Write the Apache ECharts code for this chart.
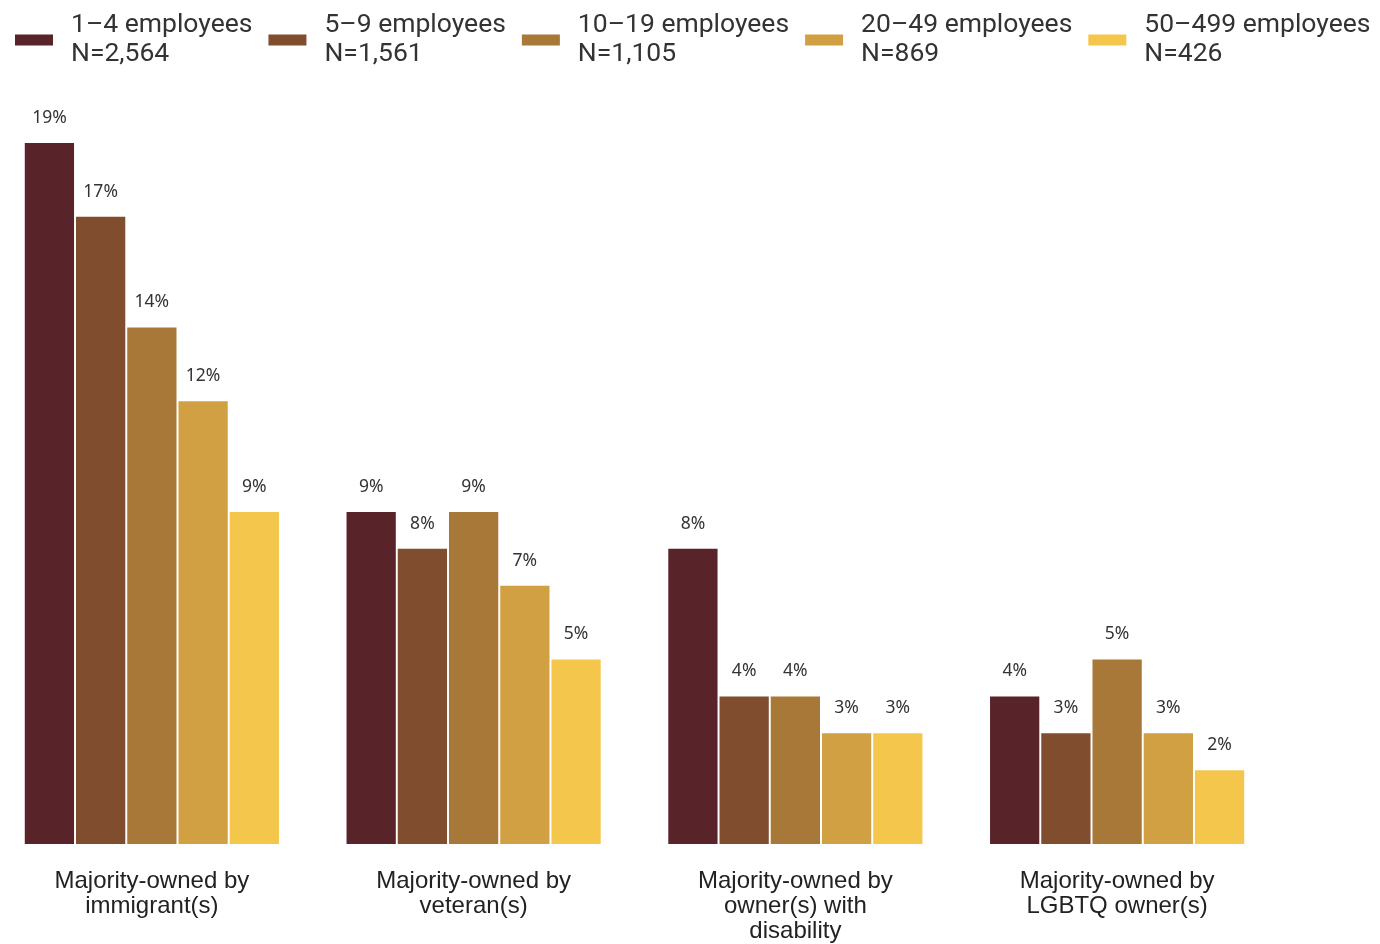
<!DOCTYPE html>
<html>
<head>
<meta charset="utf-8">
<script src="https://cdn.jsdelivr.net/npm/echarts@6/dist/echarts.min.js"></script>
<style>
html,body{margin:0;padding:0;background:#fff;overflow:hidden;}
#chart{position:absolute;left:-9px;top:0;width:1389px;height:944px;}
</style>
</head>
<body>
<div id="chart"></div>
<script>
const categories = [
  "Majority-owned by\nimmigrant(s)",
  "Majority-owned by\nveteran(s)",
  "Majority-owned by\nowner(s) with\ndisability",
  "Majority-owned by\nLGBTQ owner(s)"
];
const seriesNames = ["1–4 employees", "5–9 employees", "10–19 employees", "20–49 employees", "50–499 employees"];
const sampleSizes = ["N=2,564", "N=1,561", "N=1,105", "N=869", "N=426"];
const colors = ["#59232a", "#804d2e", "#a87838", "#d0a043", "#f4c74c"];
const s1to4 = [19, 9, 8, 4];
const s5to9 = [17, 8, 4, 3];
const s10to19 = [14, 9, 4, 5];
const s20to49 = [12, 7, 3, 3];
const s50to499 = [9, 5, 3, 2];
const seriesValues = [s1to4, s5to9, s10to19, s20to49, s50to499];

const chart = echarts.init(document.getElementById('chart'));
const series = seriesNames.map((name, i) => ({
  name: name,
  type: 'bar',
  data: seriesValues[i],
  barGap: '4%',
  barCategoryGap: '21%',
  itemStyle: { color: colors[i] },
  label: {
    show: true,
    position: 'top',
    distance: 16,
    formatter: '{c}%',
    fontFamily: 'Noto Sans',
    fontSize: 17.5,
    color: '#333'
  }
}));

chart.setOption({
  animation: false,
  backgroundColor: '#fff',
  color: colors,
  legend: {
    left: 24,
    top: 1,
    padding: 0,
    itemWidth: 38,
    itemHeight: 11,
    itemGap: 16,
    icon: 'rect',
    data: seriesNames,
    formatter: function (name) {
      return name + '\n' + sampleSizes[seriesNames.indexOf(name)];
    },
    textStyle: {
      fontFamily: 'Roboto',
      fontSize: 26.5,
      lineHeight: 28.5,
      color: '#333',
      padding: [0, 0, 21, 13]
    }
  },
  grid: { left: 0, width: 1287, top: 106, bottom: 99 },
  xAxis: {
    type: 'category',
    data: categories,
    axisLine: { show: false },
    axisTick: { show: false },
    axisLabel: {
      margin: 25,
      fontFamily: 'Liberation Sans',
      fontSize: 24,
      lineHeight: 25,
      color: '#222',
      interval: 0
    }
  },
  yAxis: {
    type: 'value',
    min: 0,
    max: 20,
    show: false,
    splitLine: { show: false }
  },
  series: series
});
</script>
</body>
</html>
